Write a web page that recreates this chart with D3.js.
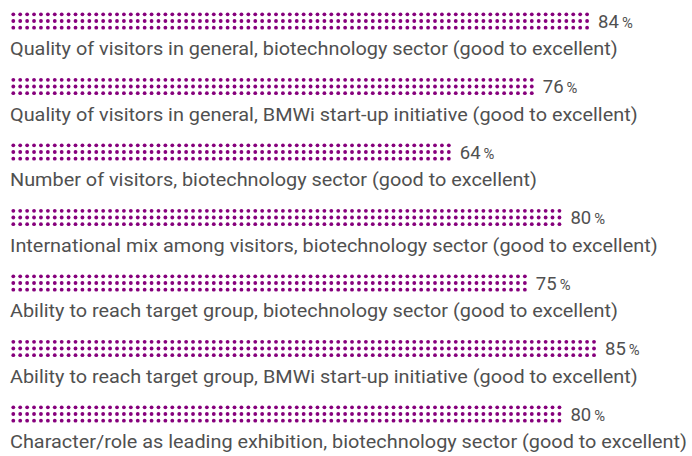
<!DOCTYPE html>
<html>
<head>
<meta charset="utf-8">
<script src="https://cdn.jsdelivr.net/npm/d3@7"></script>
<style>
  body { margin: 0; background: #fff; }
  text { font-family: Roboto, "DejaVu Sans", sans-serif; font-weight: 400; }
</style>
</head>
<body>
<svg id="chart" width="692" height="456"></svg>
<script>
// chart data
const labels = [
  "Quality of visitors in general, biotechnology sector (good to excellent)",
  "Quality of visitors in general, BMWi start-up initiative (good to excellent)",
  "Number of visitors, biotechnology sector (good to excellent)",
  "International mix among visitors, biotechnology sector (good to excellent)",
  "Ability to reach target group, biotechnology sector (good to excellent)",
  "Ability to reach target group, BMWi start-up initiative (good to excellent)",
  "Character/role as leading exhibition, biotechnology sector (good to excellent)"
];
const values = [84, 76, 64, 80, 75, 85, 80];

const dotColor = "#86007c";
const textColor = "#505050";
const fontSize = 18.5;
const svg = d3.select("#chart");

// one dot column per percent
let x = d3.scaleLinear().domain([1, 85]).range([13.3, 594]);
let y = d3.scalePoint().domain(d3.range(labels.length)).range([21, 414]);
let rowOffsets = [-6.7, 0, 6.7];

let rows = svg.selectAll("g.row")
    .data(values)
    .join("g")
    .attr("class", "row")
    .attr("transform", (d, i) => `translate(0,${y(i)})`);

rows.each(function(v) {
    let cells = [];
    for (let c = 1; c <= v; c++) {
        rowOffsets.forEach(o => cells.push({c: c, o: o}));
    }
    d3.select(this).selectAll("circle")
        .data(cells)
        .join("circle")
        .attr("cx", d => x(d.c))
        .attr("cy", d => d.o)
        .attr("r", 1.9)
        .style("fill", dotColor);
});

let lab = rows.append("text")
    .attr("x", 10)
    .attr("y", 34)
    .style("fill", textColor)
    .style("font-size", fontSize + "px")
    .text((d, i) => labels[i]);

// squeeze glyphs so first label ~618px and last one ~677px wide
let nodes = lab.nodes();
let squeeze = Math.min(618 / nodes[0].getComputedTextLength(),
                       677 / nodes[nodes.length - 1].getComputedTextLength());
lab.each(function() {
    let n = this.getComputedTextLength();
    d3.select(this).attr("textLength", n * squeeze).attr("lengthAdjust", "spacingAndGlyphs");
});

let pct = rows.append("g")
    .attr("transform", d => `translate(${x(d) + 11},6.5) scale(${Math.min(squeeze, 1)},1)`);
let pt = pct.append("text")
    .style("fill", textColor)
    .style("font-size", fontSize + "px");
pt.append("tspan").text(d => d);
pt.append("tspan").attr("dx", 3).style("font-size", (fontSize * 0.8) + "px").text("%");
</script>
</body>
</html>
